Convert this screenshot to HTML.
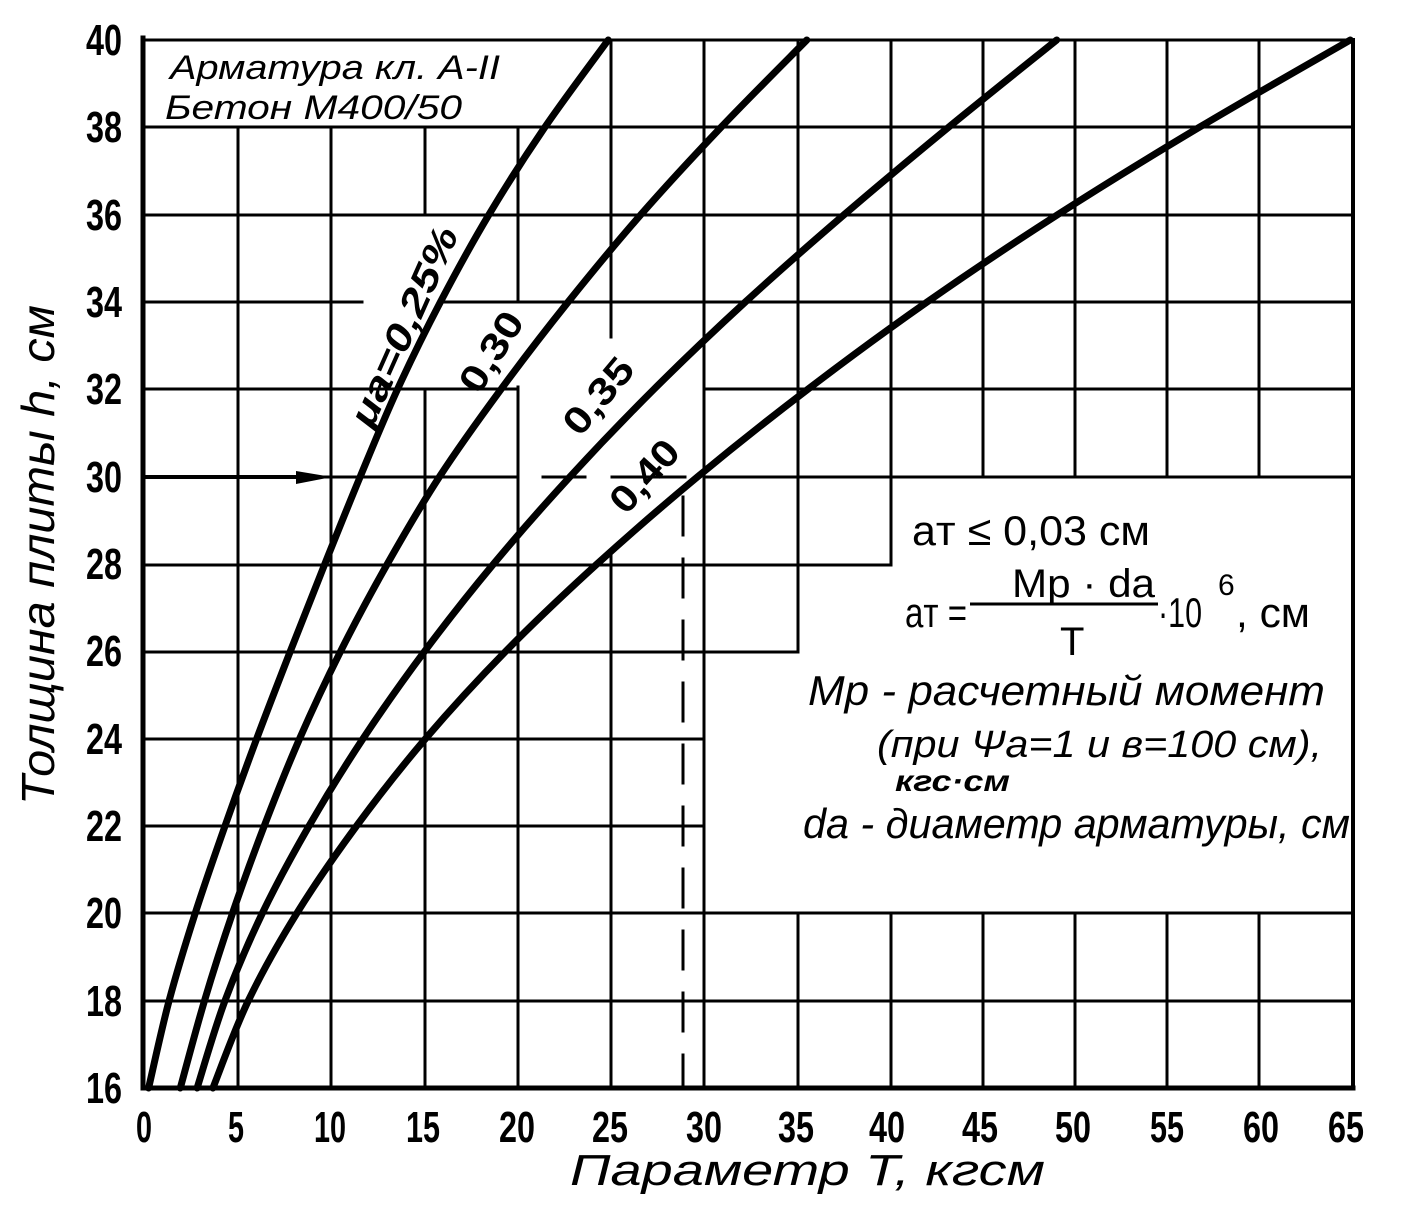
<!DOCTYPE html>
<html><head><meta charset="utf-8"><style>
html,body{margin:0;padding:0;background:#fff;}
svg{display:block;}
text{font-family:"Liberation Sans","DejaVu Sans",sans-serif;fill:#000;}
.t{font-weight:bold;}
.it{font-style:italic;}
</style></head><body>
<svg width="1406" height="1222" viewBox="0 0 1406 1222" xmlns="http://www.w3.org/2000/svg">
<g stroke="#000" stroke-width="3" fill="none" stroke-linecap="square">
<line x1="143" y1="127" x2="1353" y2="127"/>
<line x1="143" y1="215" x2="1353" y2="215"/>
<line x1="143" y1="302" x2="362" y2="302"/><line x1="443" y1="302" x2="1353" y2="302"/>
<line x1="143" y1="389" x2="518" y2="389"/><line x1="705" y1="389" x2="1353" y2="389"/>
<line x1="143" y1="477" x2="518" y2="477"/><line x1="543" y1="477" x2="585" y2="477"/><line x1="612" y1="477" x2="685" y2="477"/><line x1="705" y1="477" x2="1353" y2="477"/>
<line x1="143" y1="565" x2="891" y2="565"/>
<line x1="143" y1="652" x2="798" y2="652"/>
<line x1="143" y1="739" x2="704" y2="739"/>
<line x1="143" y1="826" x2="704" y2="826"/>
<line x1="143" y1="913" x2="1353" y2="913"/>
<line x1="143" y1="1001" x2="1353" y2="1001"/>
<line x1="238" y1="127" x2="238" y2="1088"/>
<line x1="331" y1="127" x2="331" y2="1088"/>
<line x1="425" y1="127" x2="425" y2="215"/><line x1="425" y1="392" x2="425" y2="1088"/>
<line x1="518" y1="127" x2="518" y2="302"/><line x1="518" y1="387" x2="518" y2="1088"/>
<line x1="611" y1="40" x2="611" y2="337"/><line x1="611" y1="553" x2="611" y2="1088"/>
<line x1="704" y1="40" x2="704" y2="1088"/>
<line x1="798" y1="40" x2="798" y2="652"/><line x1="798" y1="913" x2="798" y2="1088"/>
<line x1="891" y1="40" x2="891" y2="565"/><line x1="891" y1="913" x2="891" y2="1088"/>
<line x1="983" y1="40" x2="983" y2="477"/><line x1="983" y1="913" x2="983" y2="1088"/>
<line x1="1075" y1="40" x2="1075" y2="477"/><line x1="1075" y1="913" x2="1075" y2="1088"/>
<line x1="1167" y1="40" x2="1167" y2="477"/><line x1="1167" y1="913" x2="1167" y2="1088"/>
<line x1="1259" y1="40" x2="1259" y2="477"/><line x1="1259" y1="913" x2="1259" y2="1088"/>
<line x1="143" y1="40" x2="1353" y2="40"/>
<line x1="1353" y1="40" x2="1353" y2="1088" stroke-width="4"/>
<line x1="143" y1="38" x2="143" y2="1088" stroke-width="5"/>
<line x1="143" y1="1088" x2="1353" y2="1088" stroke-width="5"/>
<line x1="683" y1="497" x2="683" y2="1088" stroke-dasharray="38 24"/>
</g>
<line x1="143" y1="477" x2="300" y2="477" stroke="#000" stroke-width="4"/>
<polygon points="296,471 332,477 296,484" fill="#000"/>
<g id="curves" stroke="#000" stroke-width="7" fill="none" stroke-linejoin="round" stroke-linecap="round">
<polyline points="148.6,1088 169.1,1000.7 195.2,913.3 225,826 256.7,738.7 290.3,651.3 324.8,564 360.2,476.7 397.5,389.3 440.4,302 488.9,214.7 544.8,127.3 608.2,40"/>
<polyline points="180.3,1088 204.5,1000.7 232.5,913.3 264.2,826 299.6,738.7 340.6,651.3 387.3,564 439.5,476.7 501,389.3 568.1,302 640.8,214.7 721,127.3 806.8,40"/>
<polyline points="197.1,1088 225,1000.7 262.3,913.3 309,826 363,738.7 424.6,651.3 493.5,564 570,476.7 653.9,389.3 745.3,302 844.1,214.7 948.5,127.3 1056.7,40"/>
<polyline points="212.9,1088 248.3,1000.7 296.8,913.3 356.5,826 425.5,738.7 505.7,651.3 597,564 697.7,476.7 807.8,389.3 927.1,302 1057.6,214.7 1199.3,127.3 1350.3,40"/>
</g>
<g class="t" font-size="38">
<text transform="translate(372,430) rotate(-66)" class="t it" textLength="215" lengthAdjust="spacingAndGlyphs">μa=0,25%</text>
<text transform="translate(479,396) rotate(-58)" textLength="88" lengthAdjust="spacingAndGlyphs">0,30</text>
<text transform="translate(580,438) rotate(-50)" textLength="88" lengthAdjust="spacingAndGlyphs">0,35</text>
<text transform="translate(626,516) rotate(-48)" textLength="84" lengthAdjust="spacingAndGlyphs">0,40</text>
</g>
<g class="t" font-size="44">
<text x="86" y="55" textLength="36" lengthAdjust="spacingAndGlyphs">40</text>
<text x="86" y="142" textLength="36" lengthAdjust="spacingAndGlyphs">38</text>
<text x="86" y="230" textLength="36" lengthAdjust="spacingAndGlyphs">36</text>
<text x="86" y="317" textLength="36" lengthAdjust="spacingAndGlyphs">34</text>
<text x="86" y="404" textLength="36" lengthAdjust="spacingAndGlyphs">32</text>
<text x="86" y="492" textLength="36" lengthAdjust="spacingAndGlyphs">30</text>
<text x="86" y="579" textLength="36" lengthAdjust="spacingAndGlyphs">28</text>
<text x="86" y="666" textLength="36" lengthAdjust="spacingAndGlyphs">26</text>
<text x="86" y="754" textLength="36" lengthAdjust="spacingAndGlyphs">24</text>
<text x="86" y="841" textLength="36" lengthAdjust="spacingAndGlyphs">22</text>
<text x="86" y="928" textLength="36" lengthAdjust="spacingAndGlyphs">20</text>
<text x="86" y="1016" textLength="36" lengthAdjust="spacingAndGlyphs">18</text>
<text x="86" y="1103" textLength="36" lengthAdjust="spacingAndGlyphs">16</text>
</g>
<g class="t" font-size="44">
<text x="136" y="1142" textLength="16" lengthAdjust="spacingAndGlyphs">0</text>
<text x="228" y="1142" textLength="16" lengthAdjust="spacingAndGlyphs">5</text>
<text x="314" y="1142" textLength="32" lengthAdjust="spacingAndGlyphs">10</text>
<text x="406" y="1142" textLength="34" lengthAdjust="spacingAndGlyphs">15</text>
<text x="499" y="1142" textLength="36" lengthAdjust="spacingAndGlyphs">20</text>
<text x="592" y="1142" textLength="36" lengthAdjust="spacingAndGlyphs">25</text>
<text x="686" y="1142" textLength="36" lengthAdjust="spacingAndGlyphs">30</text>
<text x="778" y="1142" textLength="36" lengthAdjust="spacingAndGlyphs">35</text>
<text x="869" y="1142" textLength="36" lengthAdjust="spacingAndGlyphs">40</text>
<text x="962" y="1142" textLength="36" lengthAdjust="spacingAndGlyphs">45</text>
<text x="1055" y="1142" textLength="36" lengthAdjust="spacingAndGlyphs">50</text>
<text x="1150" y="1142" textLength="34" lengthAdjust="spacingAndGlyphs">55</text>
<text x="1243" y="1142" textLength="36" lengthAdjust="spacingAndGlyphs">60</text>
<text x="1328" y="1142" textLength="36" lengthAdjust="spacingAndGlyphs">65</text>
</g>
<text class="it" font-size="46" transform="translate(54,805) rotate(-90)" textLength="500" lengthAdjust="spacingAndGlyphs">Толщина  плиты  h, см</text>
<text class="it" font-size="44" x="570" y="1185" textLength="475" lengthAdjust="spacingAndGlyphs">Параметр  T, кгсм</text>
<text class="it" font-size="34" x="170" y="79" textLength="330" lengthAdjust="spacingAndGlyphs">Арматура  кл. А-II</text>
<text class="it" font-size="34" x="165" y="119" textLength="297" lengthAdjust="spacingAndGlyphs">Бетон  М400/50</text>
<text font-size="42" x="912" y="545" textLength="238" lengthAdjust="spacingAndGlyphs">aт ≤ 0,03 см</text>
<text font-size="42" x="905" y="627" textLength="62" lengthAdjust="spacingAndGlyphs">aт =</text>
<text font-size="40" x="1012" y="597" textLength="143" lengthAdjust="spacingAndGlyphs">Мр · da</text>
<line x1="970" y1="604" x2="1158" y2="604" stroke="#000" stroke-width="3"/>
<text font-size="40" x="1060" y="655">T</text>
<text font-size="42" x="1158" y="627" textLength="44" lengthAdjust="spacingAndGlyphs">·10</text>
<text font-size="30" x="1218" y="595">6</text>
<text font-size="42" x="1236" y="627" textLength="74" lengthAdjust="spacingAndGlyphs">, см</text>
<text class="it" font-size="42" x="808" y="705" textLength="517" lengthAdjust="spacingAndGlyphs">Мр - расчетный  момент</text>
<text class="it" font-size="38" x="877" y="757" textLength="445" lengthAdjust="spacingAndGlyphs">(при  Ψa=1  и  в=100 см),</text>
<text class="it" font-size="30" font-weight="bold" x="895" y="791" textLength="115" lengthAdjust="spacingAndGlyphs">кгс·см</text>
<text class="it" font-size="42" x="803" y="838" textLength="547" lengthAdjust="spacingAndGlyphs">da - диаметр арматуры, см</text>
</svg>
<script>
(function(){
var g=document.getElementById('curves');var pls=g.querySelectorAll('polyline');
for(var k=0;k!==pls.length;k++){var pl=pls[k];
var p=pl.getAttribute('points').trim().split(/\s+/).map(function(s){return s.split(',').map(Number);});
var d='M'+p[0][0]+','+p[0][1];
for(var i=0;i!==p.length-1;i++){var p0=p[i-1]||p[i],p1=p[i],p2=p[i+1],p3=p[i+2]||p[i+1];
d+=' C'+(p1[0]+(p2[0]-p0[0])/6)+','+(p1[1]+(p2[1]-p0[1])/6)+' '+(p2[0]-(p3[0]-p1[0])/6)+','+(p2[1]-(p3[1]-p1[1])/6)+' '+p2[0]+','+p2[1];}
var path=document.createElementNS('http://www.w3.org/2000/svg','path');path.setAttribute('d',d);
g.replaceChild(path,pl);}
})();
</script>
</body></html>
